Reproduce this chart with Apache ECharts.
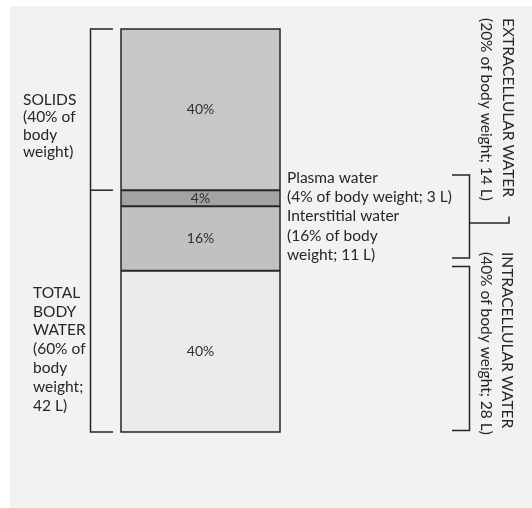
<!DOCTYPE html>
<html>
<head>
<meta charset="utf-8">
<style>
  html, body { margin: 0; padding: 0; background: #ffffff; }
  #chart { width: 532px; height: 508px; }
</style>
<script src="https://cdn.jsdelivr.net/npm/echarts@6/dist/echarts.min.js"></script>
</head>
<body>
<div id="chart"></div>
<script>
// Body-weight compartments, listed from the bottom of the column to the top
const categories = ['Body weight'];
const compartments = ['Intracellular water', 'Interstitial water', 'Plasma water', 'Solids'];
const percentOfBodyWeight = [40, 16, 4, 40];
const fills = ['#ebebeb', '#c1c1c1', '#a3a3a3', '#c7c7c7'];

const FONT = 'Lato, "Open Sans", sans-serif';
const INK = '#262626';

const chart = echarts.init(document.getElementById('chart'), null, { renderer: 'canvas' });

chart.setOption({
  animation: false,
  grid: { left: 121, right: 252, top: 29, bottom: 76 },
  xAxis: { type: 'category', data: categories, show: false },
  yAxis: { type: 'value', min: 0, max: 100, show: false },
  series: compartments.map((name, i) => ({
    name,
    type: 'bar',
    stack: 'body',
    barWidth: '100%',
    data: [percentOfBodyWeight[i]],
    itemStyle: { color: fills[i], borderWidth: 0 },
    label: {
      show: true,
      position: 'inside',
      formatter: '{c}%',
      color: '#303030',
      fontFamily: FONT,
      fontSize: 14
    }
  }))
});

// Cumulative boundaries of the stack, converted to pixels through the value axis
const yAt = v => chart.convertToPixel({ yAxisIndex: 0 }, v);
const total = percentOfBodyWeight.reduce((a, b) => a + b, 0);
const waterTotal = percentOfBodyWeight[0] + percentOfBodyWeight[1] + percentOfBodyWeight[2];
const yTop = yAt(total), yWater = yAt(waterTotal), yBottom = yAt(0);

// Horizontal extent of the column, taken from the laid-out bar
const barLayout = chart.getModel().getSeriesByIndex(0).getData().getItemLayout(0);
const xL = barLayout.x, xR = barLayout.x + barLayout.width;

const line = (points, w) => ({
  type: 'polyline',
  shape: { points },
  style: { stroke: INK, lineWidth: w || 1.5, fill: null },
  z: 10
});

const text = (str, x, y, opts = {}) => ({
  type: 'text',
  x, y,
  rotation: opts.rotation || 0,
  style: {
    text: str,
    fill: '#262626',
    fontFamily: FONT,
    fontSize: opts.fontSize || 15.5,
    lineHeight: opts.lineHeight || 18,
    textAlign: 'left',
    textVerticalAlign: opts.vAlign || 'top'
  },
  z: 10
});

// Outline of the column and the dividing line at every stack boundary
let cum = 0;
const dividers = [];
percentOfBodyWeight.slice(0, -1).forEach(v => {
  cum += v;
  const y = yAt(cum);
  dividers.push(line([[xL, y], [xR, y]], 2));
});

const ROT = -Math.PI / 2;

chart.setOption({
  graphic: [
    { type: 'rect', shape: { x: 10, y: 6, width: 522, height: 502 }, style: { fill: '#f2f2f2' }, z: -10, silent: true },

    { type: 'rect', shape: { x: xL, y: yTop, width: xR - xL, height: yBottom - yTop },
      style: { fill: null, stroke: INK, lineWidth: 1.5 }, z: 10 },
    ...dividers,

    // Left bracket: solids above, total body water below
    line([[113, yTop], [90.5, yTop], [90.5, yBottom], [113, yBottom]]),
    line([[90.5, yWater], [113, yWater]]),
    text('SOLIDS\n(40% of\nbody\nweight)', 23, 91.3, { lineHeight: 17.4 }),
    text('TOTAL\nBODY\nWATER\n(60% of\nbody\nweight;\n42 L)', 33, 283.3, { lineHeight: 18.8 }),

    // Extracellular compartments
    text('Plasma water\n(4% of body weight; 3 L)\nInterstitial water\n(16% of body\nweight; 11 L)', 287, 168.4, { lineHeight: 19.2 }),

    // Right brackets
    line([[452, 175], [469.5, 175], [469.5, 258], [452, 258]]),
    line([[469.5, 223], [509, 223], [509, 216.5]]),
    line([[452, 266.5], [469.5, 266.5], [469.5, 430.5], [452, 430.5]]),

    text('EXTRACELLULAR WATER', 508, 18, { rotation: ROT, vAlign: 'middle' }),
    text('(20% of body weight; 14 L)', 486, 18, { rotation: ROT, vAlign: 'middle' }),
    text('INTRACELLULAR WATER', 507, 252, { rotation: ROT, vAlign: 'middle' }),
    text('(40% of body weight; 28 L)', 486, 252, { rotation: ROT, vAlign: 'middle' })
  ]
});
</script>
</body>
</html>
